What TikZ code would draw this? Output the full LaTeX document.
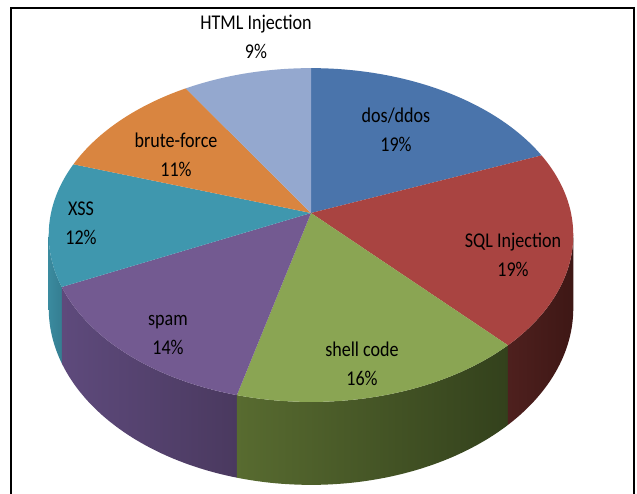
\documentclass[tikz,border=0pt]{standalone}
\usepackage{fontspec}
\setmainfont[FakeStretch=0.86]{Carlito}
\usetikzlibrary{calc}

% slice colours (top faces)
\definecolor{cDos}{HTML}{4A74AB}
\definecolor{cSql}{HTML}{A94441}
\definecolor{cShell}{HTML}{8AA553}
\definecolor{cSpam}{HTML}{735A91}
\definecolor{cXss}{HTML}{3F97AE}
\definecolor{cBrute}{HTML}{D98540}
\definecolor{cHtml}{HTML}{94A8CF}
% side walls
\definecolor{sSqlA}{HTML}{4E201E}
\definecolor{sSqlB}{HTML}{3E1715}
\definecolor{sShellA}{HTML}{586B30}
\definecolor{sShellB}{HTML}{33411C}
\definecolor{sSpamA}{HTML}{5E4A7C}
\definecolor{sSpamB}{HTML}{4A395F}
\definecolor{sXssA}{HTML}{3A8A9E}
\definecolor{sXssB}{HTML}{357E91}

% perspective view of the disc: top rim (pu,pv), bottom rim (pu,pw)
\pgfmathdeclarefunction{pu}{1}{\pgfmathparse{311+260*cos(#1)/(1+0.132*sin(#1))}}
\pgfmathdeclarefunction{pv}{1}{\pgfmathparse{213-164*sin(#1)/(1+0.132*sin(#1))}}
\pgfmathdeclarefunction{pw}{1}{\pgfmathparse{213-164*sin(#1)/(1+0.132*sin(#1))+72/(1+0.132*sin(#1))}}

\tikzset{
  lbl/.style={font=\fontsize{21}{29}\selectfont, align=center, inner sep=0pt, text=black},
  frame/.style={line width=2.6pt, black},
}

% top face of a slice between two angles
\newcommand\topslice[3]{%
  \fill[#3] (ctr) -- plot[domain=#1:#2, samples=60, variable=\t] ({pu(\t)},{pv(\t)}) -- cycle;}
% visible wall of a slice between two angles
\newcommand\sideslice[4]{%
  \shade[left color=#3, right color=#4]
    plot[domain=#1:#2, samples=60, variable=\t] ({pu(\t)},{pv(\t)})
    -- plot[domain=#2:#1, samples=60, variable=\t] ({pu(\t)},{pw(\t)}) -- cycle;}

\begin{document}
\begin{tikzpicture}[x=1pt, y=-1pt]
  \useasboundingbox (0,0) rectangle (637,494);
  \fill[white] (0,0) rectangle (637,494);

  \coordinate (ctr) at (311,213);

  % walls (front half only)
  \sideslice{-172.4}{-154.8}{sXssA}{sXssB}
  \sideslice{-154.8}{-104.4}{sSpamA}{sSpamB}
  \sideslice{-104.4}{-46.8}{sShellA}{sShellB}
  \sideslice{-46.8}{-7.6}{sSqlA}{sSqlB}

  % top faces, clockwise from twelve o'clock
  \topslice{21.6}{90}{cDos}
  \topslice{-46.8}{21.6}{cSql}
  \topslice{-104.4}{-46.8}{cShell}
  \topslice{-154.8}{-104.4}{cSpam}
  \topslice{-198}{-154.8}{cXss}
  \topslice{-237.6}{-198}{cBrute}
  \topslice{-270}{-237.6}{cHtml}

  % labels
  \node[lbl] (lHtml)  at (256,37)  {HTML Injection\\9\%};
  \node[lbl] (lDos)   at (396,130) {dos/ddos\\19\%};
  \node[lbl] (lSql)   at (513,255) {SQL Injection\\19\%};
  \node[lbl] (lShell) at (362,364) {shell code\\16\%};
  \node[lbl] (lSpam)  at (168,335) {spam\\14\%};
  \node[lbl] (lXss)   at (81,223)  {XSS\\12\%};
  \node[lbl] (lBrute) at (176,155) {brute-force\\11\%};

  % frame
  \draw[frame] (11,500) -- (11,8) -- (634,8) -- (634,500);
\end{tikzpicture}
\end{document}
